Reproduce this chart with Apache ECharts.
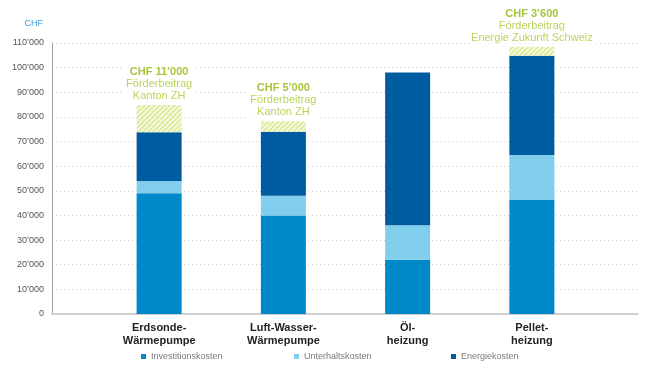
<!DOCTYPE html>
<html>
<head>
<meta charset="utf-8">
<script src="https://cdn.jsdelivr.net/npm/echarts@6/dist/echarts.min.js"></script>
<style>
html,body{margin:0;padding:0;background:#fff;}
#c{width:660px;height:371px;}
</style>
</head>
<body>
<div id="c"></div>
<script>
// ---- data ----
var categories = ['Erdsonde-\nWärmepumpe', 'Luft-Wasser-\nWärmepumpe', 'Öl-\nheizung', 'Pellet-\nheizung'];
var investitionskosten = [49000, 40000, 22000, 46500];
var unterhaltskosten = [5000, 8000, 14000, 18000];
var energiekosten = [19800, 26000, 62000, 40300];
var foerderbeitrag = [11000, 4200, null, 3700];
var foerderAmount = ['CHF 11’000', 'CHF 5’000', '', 'CHF 3’600'];
var foerderText = [['Förderbeitrag', 'Kanton ZH'], ['Förderbeitrag', 'Kanton ZH'], [], ['Förderbeitrag', 'Energie Zukunft Schweiz']];
var yTicks = [0, 10000, 20000, 30000, 40000, 50000, 60000, 70000, 80000, 90000, 100000, 110000];
var seriesNames = ['Investitionskosten', 'Unterhaltskosten', 'Energiekosten'];

// ---- styling helpers ----
var FONT = '"Liberation Sans", Arial, Helvetica, sans-serif';
function hatch() {
  var s = 5;
  var c = document.createElement('canvas');
  c.width = s; c.height = s;
  var g = c.getContext('2d');
  g.fillStyle = '#f4f9e0';
  g.fillRect(0, 0, s, s);
  g.strokeStyle = '#d6e98f';
  g.lineWidth = 1.5;
  g.beginPath();
  g.moveTo(0, s); g.lineTo(s, 0);
  g.moveTo(-s / 2, s / 2); g.lineTo(s / 2, -s / 2);
  g.moveTo(s / 2, s * 1.5); g.lineTo(s * 1.5, s / 2);
  g.stroke();
  return c;
}
function fmt(v) {
  var s = String(v);
  if (s.length > 3) s = s.slice(0, s.length - 3) + '’' + s.slice(s.length - 3);
  return s;
}

var chart = echarts.init(document.getElementById('c'), null, {renderer: 'canvas'});
var legendBase = {
  top: 352, padding: 0, itemWidth: 5, itemHeight: 5, icon: 'rect', selectedMode: false,
  textStyle: {fontFamily: FONT, fontSize: 9, color: '#7a7a7a', padding: [0, 0, 0, 0]}
};
chart.setOption({
  animation: false,
  textStyle: {fontFamily: FONT},
  color: ['#0089c8', '#80cdec', '#005ca0'],
  legend: [
    Object.assign({}, legendBase, {left: 141, data: [seriesNames[0]]}),
    Object.assign({}, legendBase, {left: 294, data: [seriesNames[1]]}),
    Object.assign({}, legendBase, {left: 451, data: [seriesNames[2]]})
  ],
  grid: [
    {left: 52, right: 22, top: 43, bottom: 57},
    {left: 97, right: 66, top: 43, bottom: 57}
  ],
  xAxis: [
    {gridIndex: 0, type: 'category', data: categories, axisLabel: {show: false}, axisTick: {show: false},
     axisLine: {show: true, lineStyle: {color: '#c4c4c4', width: 1.5}}},
    {gridIndex: 1, type: 'category', data: categories, axisTick: {show: false}, axisLine: {show: false},
     axisLabel: {fontFamily: FONT, fontSize: 11, fontWeight: 'bold', color: '#222', lineHeight: 13, margin: 7, interval: 0}}
  ],
  yAxis: [
    {gridIndex: 0, type: 'value', min: yTicks[0], max: yTicks[yTicks.length - 1], interval: yTicks[1] - yTicks[0],
     name: 'CHF', nameLocation: 'end', nameGap: 15,
     nameTextStyle: {color: '#3b9fd9', fontSize: 9, fontFamily: FONT, align: 'right', padding: [0, 9, 0, 0]},
     axisLine: {show: true, lineStyle: {color: '#a0a0a0', width: 1}},
     axisTick: {show: false},
     axisLabel: {formatter: fmt, fontSize: 9, color: '#555', margin: 8, fontFamily: FONT},
     splitLine: {show: true, lineStyle: {color: '#cfcfcf', type: [1, 3], width: 1}}},
    {gridIndex: 1, type: 'value', min: yTicks[0], max: yTicks[yTicks.length - 1], show: false, splitLine: {show: false}}
  ],
  series: [
    {name: seriesNames[0], type: 'bar', stack: 't', xAxisIndex: 1, yAxisIndex: 1, barWidth: 45, data: investitionskosten,
     itemStyle: {color: '#0089c8'}},
    {name: seriesNames[1], type: 'bar', stack: 't', xAxisIndex: 1, yAxisIndex: 1, barWidth: 45, data: unterhaltskosten,
     itemStyle: {color: '#80cdec'}},
    {name: seriesNames[2], type: 'bar', stack: 't', xAxisIndex: 1, yAxisIndex: 1, barWidth: 45, data: energiekosten,
     itemStyle: {color: '#005ca0'}},
    {name: 'Förderbeitrag', type: 'bar', stack: 't', xAxisIndex: 1, yAxisIndex: 1, barWidth: 45, data: foerderbeitrag,
     itemStyle: {color: {image: hatch(), repeat: 'repeat'}},
     label: {show: true, position: 'top', distance: 3, align: 'center',
       backgroundColor: '#ffffff', padding: [1, 2, 0, 2],
       formatter: function (p) {
         var i = p.dataIndex;
         if (!foerderAmount[i]) return '';
         var lines = ['{a|' + foerderAmount[i] + '}'];
         foerderText[i].forEach(function (t) { lines.push('{b|' + t + '}'); });
         return lines.join('\n');
       },
       rich: {
         a: {fontFamily: FONT, fontSize: 11, fontWeight: 'bold', color: '#a6c53c', lineHeight: 12, align: 'center'},
         b: {fontFamily: FONT, fontSize: 11, color: '#b9d45c', lineHeight: 12, align: 'center'}
       }}}
  ]
});
</script>
</body>
</html>
